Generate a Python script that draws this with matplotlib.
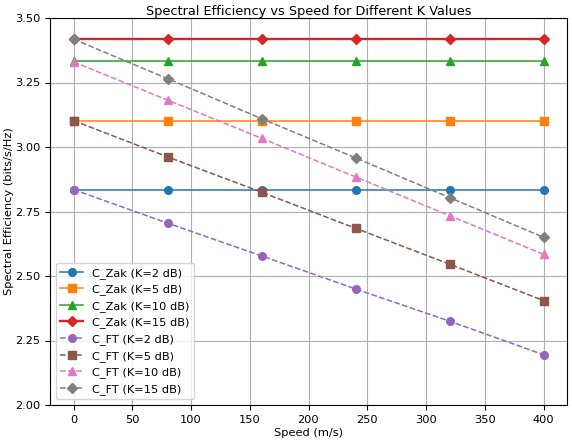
import numpy as np
import matplotlib.pyplot as plt

speed = [0, 80, 160, 240, 320, 400]
k_values = [2, 5, 10, 15]

# C_Zak is constant over speed
c_zak = {
    2: [2.835] * 6,
    5: [3.102] * 6,
    10: [3.335] * 6,
    15: [3.418] * 6,
}
c_ft = {
    2: [2.835, 2.705, 2.578, 2.450, 2.325, 2.195],
    5: [3.102, 2.962, 2.825, 2.685, 2.546, 2.405],
    10: [3.330, 3.182, 3.034, 2.884, 2.734, 2.584],
    15: [3.418, 3.265, 3.110, 2.958, 2.804, 2.650],
}

markers = ['o', 's', '^', 'D']
zak_colors = ['#1f77b4', '#ff7f0e', '#2ca02c', '#d62728']
ft_colors = ['#9467bd', '#8c564b', '#e377c2', '#7f7f7f']
plt.rcParams['font.size'] = 8.2

fig = plt.figure(figsize=(5.72, 4.42), dpi=100)
ax = fig.add_axes([50 / 572, 1 - 405 / 442, 517 / 572, 387 / 442])

for i, k in enumerate(k_values):
    lw = 1.7 if k == 15 else 1.1
    ax.plot(speed, c_zak[k], marker=markers[i], color=zak_colors[i], lw=lw, ms=5.5,
            label='C_Zak (K=%d dB)' % k)
for i, k in enumerate(k_values):
    ax.plot(speed, c_ft[k], marker=markers[i], color=ft_colors[i], lw=1.1, ms=5.5,
            linestyle='--', label='C_FT (K=%d dB)' % k)

ax.set_ylim(2.0, 3.5)
ax.set_xticks(range(0, 401, 50))
ax.set_yticks(np.arange(2.0, 3.51, 0.25))
ax.set_title('Spectral Efficiency vs Speed for Different K Values', fontsize=9.3, pad=1)
ax.set_xlabel('Speed (m/s)', labelpad=2)
ax.set_ylabel('Spectral Efficiency (bits/s/Hz)', labelpad=1)
ax.grid(True)
ax.legend(loc='lower left')
fig.savefig('out.png', dpi=100)
